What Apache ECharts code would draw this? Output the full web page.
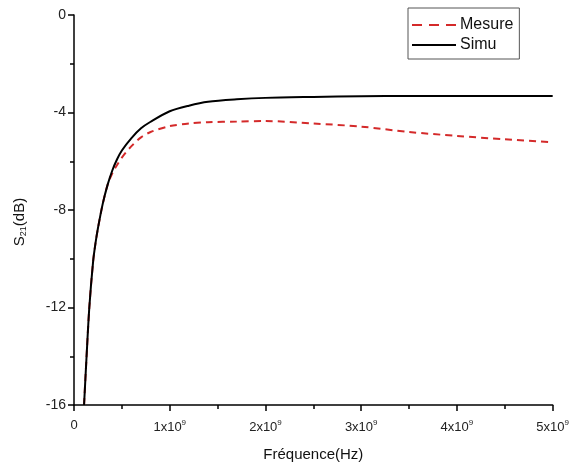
<!DOCTYPE html>
<html>
<head>
<meta charset="utf-8">
<script src="https://cdn.jsdelivr.net/npm/echarts@6/dist/echarts.min.js"></script>
<style>
  html, body { margin: 0; padding: 0; background: #fff; }
  #chart { width: 572px; height: 467px; }
</style>
</head>
<body>
<div id="chart"></div>
<script>
// frequency in units of 1e9 Hz
const freq = [0.105, 0.13, 0.16, 0.2, 0.225, 0.25, 0.3, 0.35, 0.4, 0.45, 0.5, 0.6, 0.7, 0.8, 1.0, 1.2, 1.4, 1.7, 2.0, 2.5, 3.0, 3.5, 4.0, 4.5, 5.0]
const simu = [-16.0, -14.1, -12.0, -10.1, -9.35, -8.75, -7.75, -6.98, -6.38, -5.92, -5.56, -5.05, -4.65, -4.38, -3.95, -3.72, -3.56, -3.46, -3.4, -3.36, -3.33, -3.32, -3.32, -3.32, -3.32]
const mesure = [-16.0, -14.1, -12.0, -10.1, -9.35, -8.75, -7.75, -6.98, -6.5, -6.15, -5.85, -5.38, -5.02, -4.8, -4.56, -4.45, -4.4, -4.37, -4.35, -4.45, -4.58, -4.8, -4.96, -5.1, -5.22]
const seriesNames = ['Mesure', 'Simu']

const font = 'Liberation Sans, Arial, sans-serif'
const chart = echarts.init(document.getElementById('chart'))

// legend icons: plain line / dashed line, no symbol
const solidIcon = 'path://M0,0H44V2H0Z'
const dashIcon = 'path://M0,0H10V2H0Z M17,0H27V2H17Z M34,0H44V2H34Z'

chart.setOption({
  animation: false,
  textStyle: { fontFamily: font },
  grid: { left: 74, right: 19, top: 15, bottom: 60 },
  legend: {
    data: [
      { name: seriesNames[0], icon: dashIcon },
      { name: seriesNames[1], icon: solidIcon }
    ],
    orient: 'vertical',
    left: 408,
    top: 8,
    itemWidth: 44,
    itemHeight: 14,
    itemGap: 4,
    padding: [9, 6, 6, 4],
    borderColor: '#555',
    borderWidth: 1,
    textStyle: { fontSize: 16, color: '#111', padding: [0, 0, 0, -1] }
  },
  xAxis: {
    type: 'value',
    min: 0,
    max: 5,
    interval: 1,
    name: 'Fréquence(Hz)',
    nameLocation: 'middle',
    nameGap: 42,
    nameTextStyle: { fontSize: 15, color: '#111' },
    axisLine: { onZero: false, lineStyle: { color: '#000', width: 1.5 } },
    axisTick: { length: 6, lineStyle: { color: '#000', width: 1.5 } },
    minorTick: { show: true, splitNumber: 2, length: 4, lineStyle: { color: '#000', width: 1.5 } },
    splitLine: { show: false },
    axisLabel: {
      margin: 14,
      fontSize: 13,
      color: '#222',
      formatter: v => v === 0 ? '0' : '{b|' + v + 'x10}{s|9}',
      rich: {
        b: { fontSize: 13, color: '#222' },
        s: { fontSize: 8, color: '#222', verticalAlign: 'top', padding: [0, 0, 8, 0] }
      }
    }
  },
  yAxis: {
    type: 'value',
    min: -16,
    max: 0,
    interval: 4,
    name: '{a|S}{b|21}{a|(dB)}',
    nameLocation: 'middle',
    nameGap: 46,
    nameTextStyle: {
      padding: [0, 24, 0, 0],
      rich: {
        a: { fontSize: 15, color: '#111' },
        b: { fontSize: 9, color: '#111', padding: [7, 0, 0, 0] }
      }
    },
    axisLine: { show: true, onZero: false, lineStyle: { color: '#000', width: 1.5 } },
    axisTick: { show: true, length: 6, lineStyle: { color: '#000', width: 1.5 } },
    minorTick: { show: true, splitNumber: 2, length: 4, lineStyle: { color: '#000', width: 1.5 } },
    splitLine: { show: false },
    axisLabel: { margin: 8, fontSize: 14, color: '#222' }
  },
  series: [
    {
      name: seriesNames[0],
      type: 'line',
      smooth: 0.3,
      symbol: 'none',
      data: freq.map((f, i) => [f, mesure[i]]),
      lineStyle: { color: '#d42a2a', width: 2, type: [7, 5] },
      itemStyle: { color: '#d42a2a' },
      z: 2
    },
    {
      name: seriesNames[1],
      type: 'line',
      smooth: 0.3,
      symbol: 'none',
      data: freq.map((f, i) => [f, simu[i]]),
      lineStyle: { color: '#000', width: 2 },
      itemStyle: { color: '#000' },
      z: 3
    }
  ]
})
</script>
</body>
</html>
